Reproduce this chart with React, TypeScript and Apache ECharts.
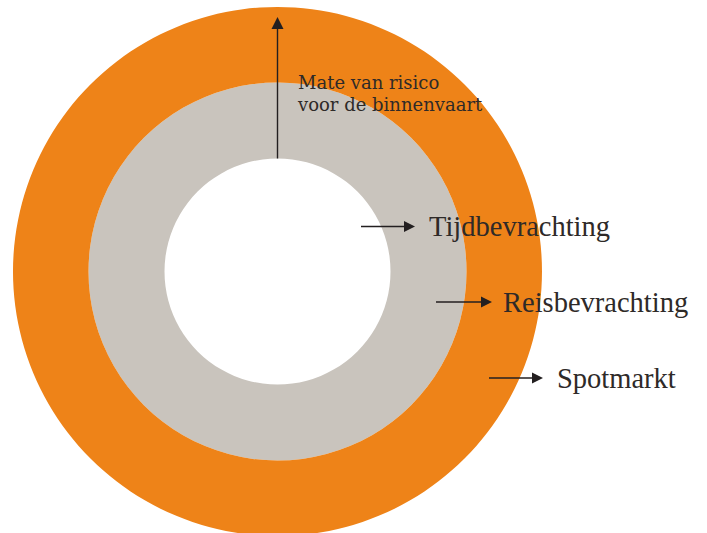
import React, { useEffect, useRef } from "react";
import * as echarts from "echarts";

// Ring data (inner to outer)
const ringLabels = ["Tijdbevrachting", "Reisbevrachting", "Spotmarkt"];
const ringValues = [1, 1, 1];
const riskLabel = ["Mate van risico", "voor de binnenvaart"];

const ringColors = ["#FFFFFF", "#C9C4BD", "#EE8318"];
const ringRadii: [number, number][] = [
  [0, 113],
  [113, 189],
  [189, 264.5],
];
const CX = 277.5;
const CY = 271.5;
const TXT = "#2e2a28";
const FONT = "Liberation Serif";

// label placement: arrow start x, arrow tip x, y center, text x
const labelPos = [
  { x0: 361, x1: 415, y: 226.5, tx: 429 },
  { x0: 436, x1: 492, y: 302, tx: 503 },
  { x0: 489, x1: 543, y: 378, tx: 557 },
];

function arrowRight(x0: number, x1: number, y: number) {
  return [
    {
      type: "line",
      shape: { x1: x0, y1: y, x2: x1 - 9, y2: y },
      style: { stroke: "#231f20", lineWidth: 1.3 },
      silent: true,
    },
    {
      type: "polygon",
      shape: { points: [[x1, y], [x1 - 11, y - 5.5], [x1 - 11, y + 5.5]] },
      style: { fill: "#231f20" },
      silent: true,
    },
  ];
}

export default function App() {
  const ref = useRef<HTMLDivElement>(null);
  useEffect(() => {
    if (!ref.current) return;
    const chart = echarts.init(ref.current, null, { renderer: "svg" });
    const series = ringLabels.map((name, i) => ({
      type: "pie",
      name,
      center: [CX, CY],
      radius: ringRadii[i],
      silent: true,
      label: { show: false },
      labelLine: { show: false },
      itemStyle: { color: ringColors[i], borderWidth: 0 },
      data: [{ name, value: ringValues[i] }],
      z: 1,
    }));
    const graphics: any[] = [];
    // vertical risk arrow
    graphics.push({
      type: "line",
      shape: { x1: CX, y1: CY - ringRadii[0][1], x2: CX, y2: 26 },
      style: { stroke: "#231f20", lineWidth: 1.4 },
      silent: true,
      z: 10,
    });
    graphics.push({
      type: "polygon",
      shape: { points: [[CX, 17], [CX - 6, 29], [CX + 6, 29]] },
      style: { fill: "#231f20" },
      silent: true,
      z: 10,
    });
    riskLabel.forEach((t, i) => {
      graphics.push({
        type: "text",
        x: 298,
        y: 82.5 + i * 21.5,
        style: {
          text: t,
          font: `18px "DejaVu Serif"`,
          fill: TXT,
          verticalAlign: "middle",
          align: "left",
        },
        silent: true,
        z: 10,
      });
    });
    ringLabels.forEach((t, i) => {
      const p = labelPos[i];
      arrowRight(p.x0, p.x1, p.y).forEach((g) => graphics.push({ ...g, z: 10 }));
      graphics.push({
        type: "text",
        x: p.tx,
        y: p.y,
        style: {
          text: t,
          font: `28.5px "${FONT}"`,
          fill: TXT,
          verticalAlign: "middle",
          align: "left",
        },
        silent: true,
        z: 10,
      });
    });
    chart.setOption({
      animation: false,
      backgroundColor: "#ffffff",
      series,
      graphic: { elements: graphics },
    });
    return () => chart.dispose();
  }, []);
  return (
    <div
      ref={ref}
      style={{ position: "fixed", left: 0, top: 0, width: 707, height: 533 }}
    />
  );
}
